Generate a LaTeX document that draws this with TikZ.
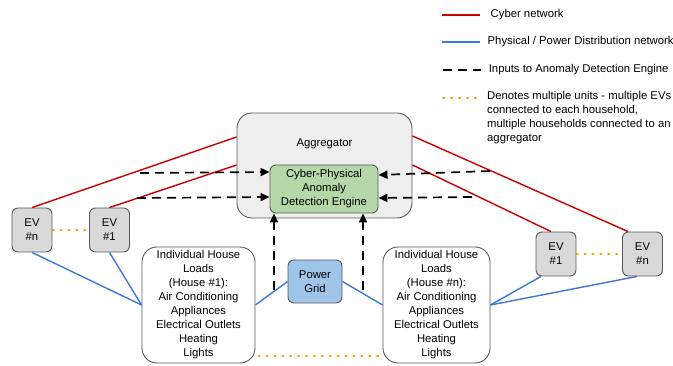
\documentclass[tikz,border=0pt]{standalone}
\usepackage{fontspec}
\setmainfont{Liberation Sans}
\usepackage{tikz}
\usetikzlibrary{arrows.meta}

\definecolor{cyberred}{HTML}{CC0000}
\definecolor{powerblue}{HTML}{3C78D8}
\definecolor{multiorange}{HTML}{FF9900}
\definecolor{boxline}{HTML}{595959}
\definecolor{aggfill}{HTML}{EEEEEE}
\definecolor{evfill}{HTML}{D9D9D9}
\definecolor{adefill}{HTML}{B6D7A8}
\definecolor{gridfill}{HTML}{9FC5E8}

\tikzset{
  unit/.style={draw=boxline, line width=0.9pt, align=center, inner sep=0pt,
    font=\fontsize{11.3}{14}\selectfont},
  evbox/.style={unit, fill=evfill, rounded corners=6pt, minimum width=40pt, minimum height=44pt},
  housebox/.style={unit, fill=white, rounded corners=15pt, minimum height=116pt},
  cyber/.style={cyberred, line width=1.4pt},
  power/.style={powerblue, line width=1.4pt},
  adeinput/.style={black, line width=1.7pt, dash pattern=on 9pt off 6pt, -{Triangle[length=9pt,width=8pt]}},
  multi/.style={multiorange, line width=1.6pt, dash pattern=on 1.4pt off 6.5pt, line cap=round},
  legendtext/.style={anchor=west, font=\fontsize{11.3}{14}\selectfont, align=left, inner sep=0pt}
}

\begin{document}
\begin{tikzpicture}[x=1pt, y=-1pt]
\useasboundingbox (0,0) rectangle (673,366);

% aggregator and detection engine
\node[unit, fill=aggfill, rounded corners=15pt, minimum width=175pt, minimum height=105pt] (agg) at (324.5,165.5) {};
\node[font=\fontsize{11.3}{14}\selectfont] (agglabel) at (324.5,144) {Aggregator};
\node[unit, fill=adefill, rounded corners=6pt, minimum width=108pt, minimum height=48pt] (ade) at (324,189)
  {Cyber-Physical\\Anomaly\\Detection Engine};

% EVs
\node[evbox] (evnL) at (32,230) {EV\\\#n};
\node[evbox] (ev1L) at (109.5,230) {EV\\\#1};
\node[evbox] (ev1R) at (556,254) {EV\\\#1};
\node[evbox] (evnR) at (642.5,254) {EV\\\#n};

% houses and grid
\node[housebox, minimum width=113pt] (house1) at (198.5,305)
  {Individual House\\Loads\\(House \#1):\\Air Conditioning\\Appliances\\Electrical Outlets\\Heating\\Lights};
\node[housebox, minimum width=107pt] (housen) at (436.5,305)
  {Individual House\\Loads\\(House \#n):\\Air Conditioning\\Appliances\\Electrical Outlets\\Heating\\Lights};
\node[unit, fill=gridfill, rounded corners=6pt, minimum width=54pt, minimum height=43pt] (grid) at (315,281.5) {Power\\Grid};

% cyber network
\draw[cyber] (evnL.north) -- (agg.west |- 0,137);
\draw[cyber] (ev1L.north) -- (agg.west |- 0,165);
\draw[cyber] (agg.east |- 0,136) -- (evnR.north -| 628,0);
\draw[cyber] (agg.east |- 0,165) -- (ev1R.north -| 551,0);

% physical / power network
\draw[power] (evnL.south) -- (house1.west);
\draw[power] (ev1L.south) -- (house1.west);
\draw[power] (house1.east) -- (grid.west);
\draw[power] (grid.east) -- (housen.west);
\draw[power] (housen.east) -- (ev1R.south -| 541,0);
\draw[power] (housen.east) -- (evnR.south -| 637,0);

% inputs to the detection engine
\coordinate (inL1) at (140,173);
\coordinate (inL2) at (137,198);
\coordinate (inR1) at (490,171);
\coordinate (inR2) at (472,197);
\coordinate (inB1) at (274,290);
\coordinate (inB2) at (363,290);
\draw[adeinput] (inL1) -- (ade.west |- 0,172);
\draw[adeinput] (inL2) -- (ade.west |- 0,197);
\draw[adeinput] (inR1) -- (ade.east |- 0,175);
\draw[adeinput] (inR2) -- (ade.east |- 0,198);
\draw[adeinput] (inB1) -- (ade.south -| inB1);
\draw[adeinput] (inB2) -- (ade.south -| inB2);

% multiple units
\draw[multi] (evnL.east) -- (ev1L.west);
\draw[multi] (ev1R.east) -- (evnR.west);
\draw[multi] (house1.south east |- 0,356) ++(3,0) -- (housen.south west |- 0,356);

% legend
\coordinate (lgA) at (442,15);
\coordinate (lgB) at (442,42);
\coordinate (lgC) at (443,70);
\coordinate (lgD) at (443,98);
\draw[cyber] (lgA) -- ++(38,0) node[legendtext, black, xshift=10pt] (lgtA) {Cyber network};
\draw[power] (lgB) -- ++(38,0) node[legendtext, black, xshift=7pt] (lgtB) {Physical / Power Distribution network};
\draw[black, line width=1.7pt, dash pattern=on 9pt off 6pt] (lgC) -- ++(38,0) node[legendtext, xshift=7pt] (lgtC) {Inputs to Anomaly Detection Engine};
\draw[multi] (lgD) -- ++(38,0);
\node[legendtext, anchor=north west] (lgtD) at (487,91)
  {Denotes multiple units - multiple EVs\\connected to each household,\\multiple households connected to an\\aggregator};
\end{tikzpicture}
\end{document}
